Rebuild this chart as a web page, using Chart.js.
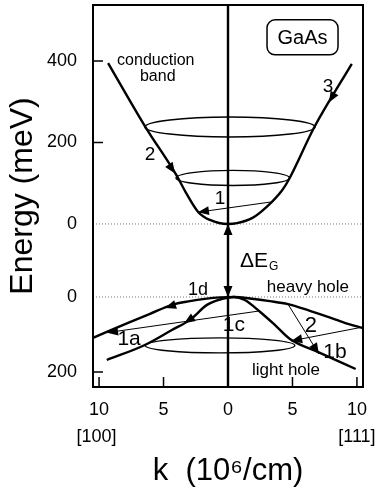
<!DOCTYPE html>
<html>
<head>
<meta charset="utf-8">
<script src="https://cdn.jsdelivr.net/npm/chart.js@4.4.1/dist/chart.umd.min.js"></script>
<style>
  html, body { margin: 0; padding: 0; background: #fff; }
  #bandChart { display: block; }
</style>
</head>
<body>
<canvas id="bandChart" width="379" height="496"></canvas>
<script>
// k in 10^6/cm, negative side = [100] direction, positive = [111]
// Conduction band, energy above the band minimum (meV)
const cbK = [-9.3, -6.4, -4.0, -3.3, -2.3, -1.4, 0, 0.7, 1.9, 3.0, 4.2, 4.7, 6.7, 9.6];
const cbE = [395, 238, 120, 79, 29, 10, 0, 2, 15, 42, 83, 108, 238, 393];

// Valence bands, depth below the valence band top (meV)
const hhK = [-10.47, -9.4, -7.75, -6.05, -4.35, -2.95, -1.8, -0.6, 0.5, 1.7, 3.25, 4.65, 6.35, 7.75, 9.05, 10.47];
const hhD = [109, 93, 69, 45, 21, 11, 5, 1, 0, 4, 11, 19, 37, 53, 69, 83];
const lhK = [-9.4, -6.45, -4.35, -2.95, -1.63, -0.45, 0.45, 1.3, 2.5, 3.65, 4.8, 7.0, 9.9];
const lhD = [168, 128, 88, 61, 21, 5, 0, 8, 40, 75, 112, 147, 192];

// constant energy surfaces: [centre k, centre energy, half width in k, half height]
const cbEllipses = [[0.15, 238, 6.6, 24.5], [0.37, 113, 4.4, 18.5]];
const vbEllipses = [[-0.62, 129, 5.8, 20]];

// thin scattering lines: [from k, from E, to k, to E], arrow at the end
const cbTransitions = [[3.33, 54, -2.33, 29]];
const vbTransitions = [[2.48, 37, -9.38, 95], [10.47, 80, 4.9, 117], [4.65, 19, 7.05, 152]];

// arrowheads on the bands: [tail k, tail E, tip k, tip E]
const cbArrows = [[-4.8, 156, -4.1, 124], [8.5, 334, 7.83, 298], [0, -30, 0, 0]];
const vbArrows = [[-3.7, 16, -4.88, 29], [-2.5, 50, -3.4, 70], [0, -37, 0, 0]];

// tick labels
const kTicks = [-10, -5, 0, 5, 10];
const eTicks = [400, 200, 0];
const depthTicks = [0, 200];

// text labels: [text, k, E, font size]
const cbLabels = [
  ["conduction", -5.6, 402, 16], ["band", -5.45, 361, 16],
  ["1", -0.62, 61, 19], ["2", -6.05, 169, 19], ["3", 7.75, 336, 19]
];
const vbLabels = [
  ["heavy hole", 6.2, -27, 17], ["1d", -2.33, -19, 18], ["1c", 0.45, 75, 21],
  ["2", 6.43, 77, 22], ["1a", -7.67, 112, 21], ["1b", 8.29, 147, 21],
  ["light hole", 4.5, 195, 17]
];

// axis ranges (upper panel in meV above CB minimum, lower in meV below VB top)
const X_MIN = -10.47, X_MAX = 10.47;
const Y_MIN = -400, Y_MAX = 537.4;
const V_MIN = -778.7, V_MAX = 240;

const FONT = "'Liberation Sans', Arial, Helvetica, sans-serif";

function depthToY(d) {
  const frac = (d - V_MIN) / (V_MAX - V_MIN);
  return Y_MAX - frac * (Y_MAX - Y_MIN);
}

const yTickValues = eTicks.concat(depthTicks.map(depthToY));
const yTickText = eTicks.concat(depthTicks).map(String);

function pts(xs, ys) {
  return xs.map((x, i) => ({ x: x, y: ys[i] }));
}

function bandSet(xs, ys, axis) {
  return {
    data: pts(xs, ys), yAxisID: axis, borderColor: "#000", borderWidth: 2.4,
    pointRadius: 0, cubicInterpolationMode: "monotone", fill: false
  };
}

function thinSet(t, axis) {
  return {
    data: [{ x: t[0], y: t[1] }, { x: t[2], y: t[3] }], yAxisID: axis,
    borderColor: "#000", borderWidth: 1, pointRadius: 0, fill: false
  };
}

const datasets = [
  bandSet(cbK, cbE, "y"),
  bandSet(hhK, hhD, "yv"),
  bandSet(lhK, lhD, "yv"),
  // k = 0 axis line
  { data: [{ x: 0, y: Y_MIN }, { x: 0, y: Y_MAX }], yAxisID: "y", borderColor: "#000", borderWidth: 2.4, pointRadius: 0 },
  // dotted band edges
  { data: [{ x: X_MIN, y: 0 }, { x: X_MAX, y: 0 }], yAxisID: "y", borderColor: "#777", borderWidth: 1, borderDash: [1, 2], pointRadius: 0 },
  { data: [{ x: X_MIN, y: 0 }, { x: X_MAX, y: 0 }], yAxisID: "yv", borderColor: "#777", borderWidth: 1, borderDash: [1, 2], pointRadius: 0 }
];
cbTransitions.forEach(t => datasets.push(thinSet(t, "y")));
vbTransitions.forEach(t => datasets.push(thinSet(t, "yv")));

function arrowHead(ctx, x0, y0, x1, y1) {
  const a = Math.atan2(y1 - y0, x1 - x0);
  const len = 11, half = 4.5;
  ctx.beginPath();
  ctx.moveTo(x1, y1);
  ctx.lineTo(x1 - len * Math.cos(a) + half * Math.sin(a), y1 - len * Math.sin(a) - half * Math.cos(a));
  ctx.lineTo(x1 - len * Math.cos(a) - half * Math.sin(a), y1 - len * Math.sin(a) + half * Math.cos(a));
  ctx.closePath();
  ctx.fill();
}

const decorations = {
  id: "decorations",
  afterDatasetsDraw(chart) {
    const ctx = chart.ctx;
    const xs = chart.scales.x, ys = chart.scales.y, vs = chart.scales.yv;
    const area = chart.chartArea;
    ctx.save();
    ctx.strokeStyle = "#000";
    ctx.fillStyle = "#000";

    // ellipses
    ctx.lineWidth = 1.4;
    const drawEll = (e, sc) => {
      const cx = xs.getPixelForValue(e[0]);
      const cy = sc.getPixelForValue(e[1]);
      const rx = Math.abs(xs.getPixelForValue(e[0] + e[2]) - cx);
      const ry = Math.abs(sc.getPixelForValue(e[1] + e[3]) - cy);
      ctx.beginPath();
      ctx.ellipse(cx, cy, rx, ry, 0, 0, Math.PI * 2);
      ctx.stroke();
    };
    cbEllipses.forEach(e => drawEll(e, ys));
    vbEllipses.forEach(e => drawEll(e, vs));

    // arrowheads
    const head = (a, sc) => arrowHead(ctx,
      xs.getPixelForValue(a[0]), sc.getPixelForValue(a[1]),
      xs.getPixelForValue(a[2]), sc.getPixelForValue(a[3]));
    cbArrows.forEach(a => head(a, ys));
    vbArrows.forEach(a => head(a, vs));
    cbTransitions.forEach(a => head(a, ys));
    vbTransitions.forEach(a => head(a, vs));

    // frame
    ctx.lineWidth = 2;
    ctx.strokeRect(area.left, area.top, area.right - area.left, area.bottom - area.top);

    // inward ticks
    ctx.lineWidth = 1.5;
    ctx.beginPath();
    kTicks.forEach(k => {
      const px = xs.getPixelForValue(k);
      ctx.moveTo(px, area.bottom);
      ctx.lineTo(px, area.bottom - 10);
    });
    eTicks.filter(v => v !== 0).forEach(v => {
      const py = ys.getPixelForValue(v);
      ctx.moveTo(area.left, py);
      ctx.lineTo(area.left + 10, py);
    });
    depthTicks.filter(v => v !== 0).forEach(v => {
      const py = vs.getPixelForValue(v);
      ctx.moveTo(area.left, py);
      ctx.lineTo(area.left + 10, py);
    });
    ctx.stroke();

    // text labels
    ctx.textAlign = "center";
    ctx.textBaseline = "middle";
    const text = (l, sc) => {
      ctx.font = l[3] + "px " + FONT;
      ctx.fillText(l[0], xs.getPixelForValue(l[1]), sc.getPixelForValue(l[2]));
    };
    cbLabels.forEach(l => text(l, ys));
    vbLabels.forEach(l => text(l, vs));

    // GaAs box
    const bx = xs.getPixelForValue(5.78), by = ys.getPixelForValue(458);
    ctx.lineWidth = 1.5;
    ctx.beginPath();
    ctx.roundRect(bx - 35.5, by - 17.5, 71, 35, 8);
    ctx.stroke();
    ctx.font = "20px " + FONT;
    ctx.fillText("GaAs", bx, by + 1);

    // band gap label
    ctx.textAlign = "left";
    const gx = xs.getPixelForValue(0.93), gy = ys.getPixelForValue(-91);
    ctx.font = "21px " + FONT;
    ctx.fillText("\u0394E", gx, gy);
    const w = ctx.measureText("\u0394E").width;
    ctx.font = "12px " + FONT;
    ctx.fillText("G", gx + w + 1, gy + 6);

    // crystal directions
    ctx.textAlign = "center";
    ctx.font = "18px " + FONT;
    ctx.fillText("[100]", xs.getPixelForValue(-10.2), area.bottom + 50);
    ctx.fillText("[111]", xs.getPixelForValue(10.0), area.bottom + 50);
    ctx.restore();
  }
};

const config = {
  type: "line",
  data: { datasets: datasets },
  options: {
    responsive: false,
    animation: false,
    events: [],
    layout: { padding: { top: 5, right: 16, left: 0, bottom: 0 } },
    plugins: { legend: { display: false }, tooltip: { enabled: false } },
    scales: {
      x: {
        type: "linear",
        min: X_MIN,
        max: X_MAX,
        grid: { display: false },
        border: { display: false },
        afterBuildTicks: axis => { axis.ticks = kTicks.map(v => ({ value: v })); },
        afterFit: axis => {
          axis.height = 109;
          axis.paddingLeft = 0;
          axis.paddingRight = 0;
        },
        ticks: {
          autoSkip: false,
          maxRotation: 0,
          padding: 4,
          color: "#000",
          font: { family: FONT, size: 18 },
          callback: v => String(Math.abs(v))
        },
        title: {
          display: true,
          text: "k  (10\u2076/cm)",
          color: "#000",
          font: { family: FONT, size: 31 },
          padding: { top: 0, bottom: 6 }
        }
      },
      y: {
        type: "linear",
        position: "left",
        min: Y_MIN,
        max: Y_MAX,
        grid: { display: false },
        border: { display: false },
        afterBuildTicks: axis => { axis.ticks = yTickValues.map(v => ({ value: v })); },
        afterFit: axis => {
          axis.width = 93;
          axis.paddingTop = 0;
          axis.paddingBottom = 0;
        },
        ticks: {
          autoSkip: false,
          padding: 8,
          color: "#000",
          font: { family: FONT, size: 18 },
          callback: (v, i) => yTickText[i]
        },
        title: {
          display: true,
          text: "Energy (meV)",
          color: "#000",
          font: { family: FONT, size: 32 },
          padding: { top: 4, bottom: 0 }
        }
      },
      yv: {
        type: "linear",
        display: false,
        reverse: true,
        min: V_MIN,
        max: V_MAX
      }
    }
  },
  plugins: [decorations]
};

document.addEventListener("DOMContentLoaded", function () {
  const ctx = document.getElementById("bandChart");
  if (ctx) {
    new Chart(ctx, config);
  }
});
</script>
</body>
</html>
